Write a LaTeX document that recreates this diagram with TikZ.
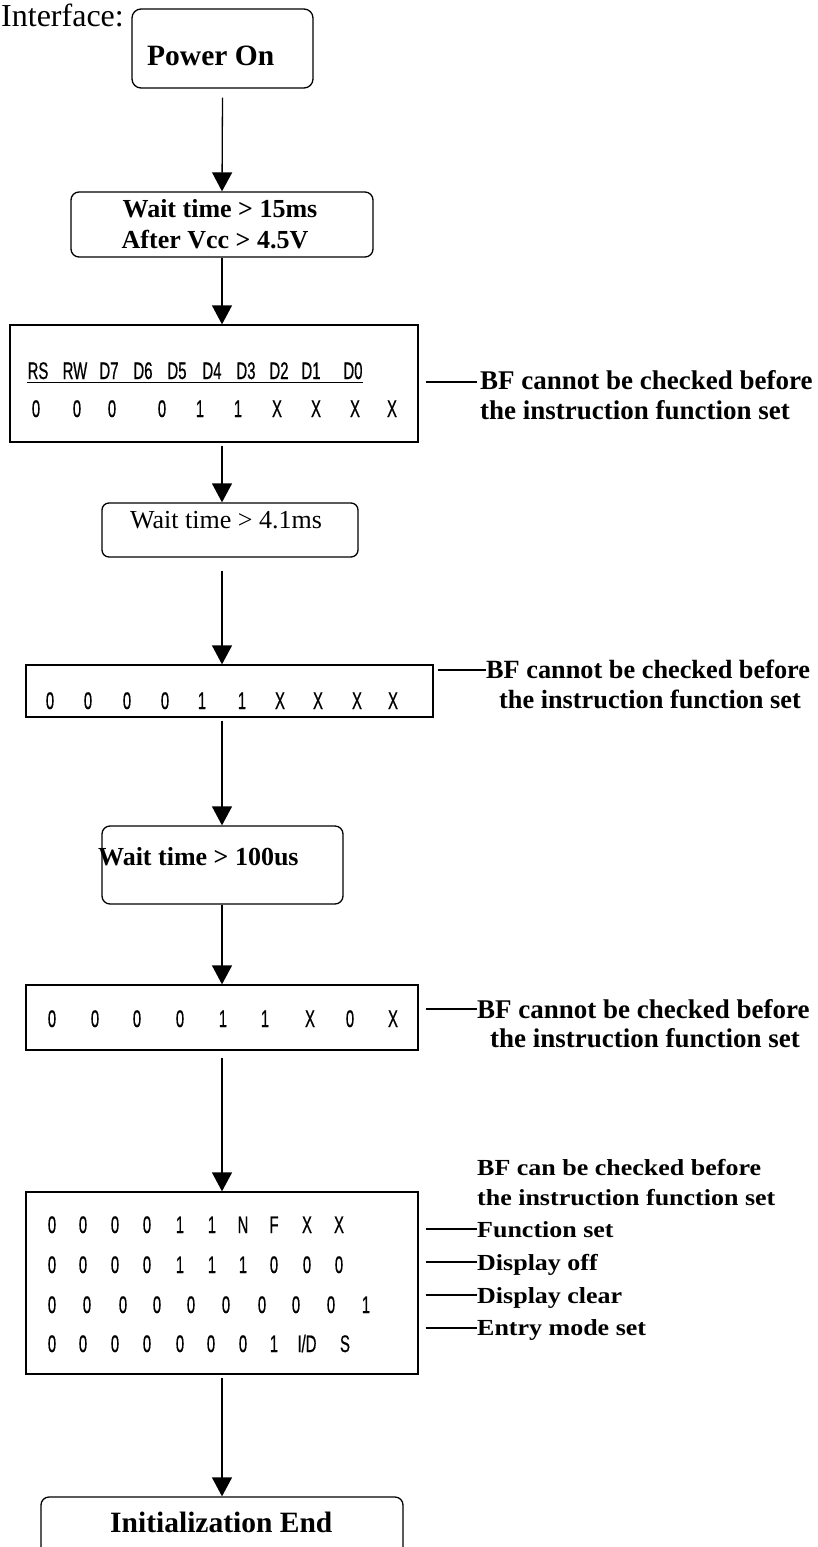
\documentclass[tikz,border=0pt]{standalone}
\usepackage{fontspec}
\setmainfont{Liberation Serif}
\newfontfamily\digitfont[FakeStretch=0.62,FakeBold=0.6]{Liberation Sans}
\newfontfamily\labwide[FakeStretch=1.13]{Liberation Serif}
\usetikzlibrary{arrows.meta,calc}
\begin{document}
\begin{tikzpicture}[x=1pt,y=-1pt,
  boxline/.style={draw, line width=1.3pt, inner sep=0pt},
  rbox/.style={boxline, rounded corners=9pt},
  sbox/.style={boxline},
  dig/.style={inner sep=0pt, anchor=base, font=\digitfont\fontsize{24}{28}\selectfont},
  bigbold/.style={inner sep=0pt, font=\fontsize{29.5}{33}\selectfont\bfseries},
  midbold/.style={inner sep=0pt, font=\fontsize{26}{30}\selectfont\bfseries},
  midrm/.style={inner sep=0pt, font=\fontsize{26}{30}\selectfont},
  labbold/.style={inner sep=0pt, font=\fontsize{27}{31}\selectfont\bfseries},
  labsmall/.style={inner sep=0pt, anchor=base west, font=\labwide\fontsize{23}{27}\selectfont\bfseries},
  arr/.style={line width=1.3pt, -{Triangle[length=19pt,width=20pt]}},
  labline/.style={line width=1.3pt}
]
\clip (0,0) rectangle (818,1547);
\coordinate (ax) at (222,0);

% boxes
\node[rbox, minimum width=181, minimum height=79] (p1) at (222.5,48.5) {};
\node[rbox, rounded corners=8pt, minimum width=302, minimum height=65] (b2) at (222,224.5) {};
\node[sbox, minimum width=408, minimum height=117] (b3) at (214,383.5) {};
\node[rbox, rounded corners=7pt, minimum width=256, minimum height=54] (b4) at (230,530) {};
\node[sbox, minimum width=407, minimum height=52] (b5) at (229.5,691) {};
\node[rbox, rounded corners=8pt, minimum width=241, minimum height=78] (b6) at (222.5,865) {};
\node[sbox, minimum width=392, minimum height=65] (b7) at (222,1017.5) {};
\node[sbox, minimum width=392, minimum height=182] (b8) at (222,1283) {};
\node[rbox, rounded corners=8pt, minimum width=362, minimum height=66] (b9) at (222,1530) {};

% texts in boxes
\node[font=\fontsize{32}{36}\selectfont, inner sep=0pt, anchor=base east] (iface) at (124,27) {Interface:};
\node[bigbold, anchor=base west] (t1) at (147,65) {Power On};
\node[midbold, anchor=base] (t2a) at (220,217) {Wait time > 15ms};
\node[midbold, anchor=base] (t2b) at (215,248) {After Vcc > 4.5V};
\node[midrm, anchor=base west] (t4) at (130,528) {Wait time > 4.1ms};
\node[midbold, anchor=base west] (t6) at (98,865) {Wait time > 100us};
\node[bigbold, anchor=base west] (t9) at (110,1532) {Initialization End};

% box 3 rows
\foreach \x/\t [count=\i] in {38/RS,75/RW,109/D7,143/D6,177/D5,212/D4,246/D3,279/D2,311/D1,353/D0}
  \node[dig] (r3a-\i) at (\x,379) {\t};
\draw[line width=1.2pt] ($(r3a-1.south west)+(0,3)$) -- ($(r3a-10.south east)+(0,3)$);
\foreach \x/\t [count=\i] in {36/0,77/0,112/0,162/0,200/1,238/1,277/X,316/X,355/X,392/X}
  \node[dig] (r3b-\i) at (\x,417) {\t};

% box 5 row
\foreach \x/\t [count=\i] in {50/0,88/0,127/0,165/0,202/1,242/1,280/X,318/X,357/X,393/X}
  \node[dig] (r5-\i) at (\x,709) {\t};

% box 7 row
\foreach \x/\t [count=\i] in {52/0,95/0,137/0,180/0,223/1,265/1,310/X,350/0,393/X}
  \node[dig] (r7-\i) at (\x,1027) {\t};

% box 8 rows
\foreach \x/\t [count=\i] in {52/0,83/0,115/0,147/0,180/1,212/1,243/N,274/F,307/X,339/X}
  \node[dig] (r8a-\i) at (\x,1233) {\t};
\foreach \x/\t [count=\i] in {52/0,83/0,115/0,147/0,180/1,212/1,243/1,274/0,307/0,339/0}
  \node[dig] (r8b-\i) at (\x,1273) {\t};
\foreach \x/\t [count=\i] in {52/0,87/0,123/0,157/0,191/0,226/0,262/0,296/0,331/0,366/1}
  \node[dig] (r8c-\i) at (\x,1313) {\t};
\foreach \x/\t [count=\i] in {52/0,83/0,115/0,147/0,180/0,211/0,243/0,274/1,307/{I/D},345/S}
  \node[dig] (r8d-\i) at (\x,1352) {\t};

% arrows
\draw[arr] ($(p1.south)+(0,9)$) -- (b2.north);
\draw[arr] (b2.south) -- (b3.north -| ax);
\draw[arr] ($(b3.south -| ax)+(0,3)$) -- (b4.north -| ax);
\draw[arr] ($(b4.south -| ax)+(0,13)$) -- (b5.north -| ax);
\draw[arr] ($(b5.south -| ax)+(0,3)$) -- (b6.north -| ax);
\draw[arr] (b6.south -| ax) -- (b7.north);
\draw[arr] ($(b7.south)+(0,7)$) -- (b8.north);
\draw[arr] ($(b8.south)+(0,3)$) -- (b9.north);

% side labels
\coordinate (k3) at (477,382);
\draw[labline] ($(b3.east |- k3)+(7,0)$) -- (k3);
\node[labbold, anchor=base west] (l3a) at (480,389) {BF cannot be checked before};
\node[labbold, anchor=base west] (l3b) at (480,419) {the instruction function set};

\coordinate (k5) at (486,670);
\draw[labline] ($(b5.east |- k5)+(4,0)$) -- (k5);
\node[labbold, anchor=base west, font=\fontsize{26.3}{30}\selectfont\bfseries] (l5a) at (486,678) {BF cannot be checked before};
\node[labbold, anchor=base, font=\fontsize{26.3}{30}\selectfont\bfseries] (l5b) at (650,708) {the instruction function set};

\coordinate (k7) at (477,1009);
\draw[labline] ($(b7.east |- k7)+(7,0)$) -- (k7);
\node[labbold, anchor=base west] (l7a) at (477,1018) {BF cannot be checked before};
\node[labbold, anchor=base] (l7b) at (645,1047) {the instruction function set};

\node[labsmall] (l8a) at (477,1175) {BF can be checked before};
\node[labsmall] (l8b) at (477,1205) {the instruction function set};
\node[labsmall] (l8c) at (477,1237) {Function set};
\node[labsmall] (l8d) at (477,1270) {Display off};
\node[labsmall] (l8e) at (477,1303) {Display clear};
\node[labsmall] (l8f) at (477,1335) {Entry mode set};
\coordinate (k8c) at (477,1229);
\coordinate (k8d) at (477,1262);
\coordinate (k8e) at (477,1295);
\coordinate (k8f) at (477,1328);
\draw[labline] ($(b8.east |- k8c)+(7,0)$) -- (k8c);
\draw[labline] ($(b8.east |- k8d)+(7,0)$) -- (k8d);
\draw[labline] ($(b8.east |- k8e)+(7,0)$) -- (k8e);
\draw[labline] ($(b8.east |- k8f)+(7,0)$) -- (k8f);
\end{tikzpicture}
\end{document}
